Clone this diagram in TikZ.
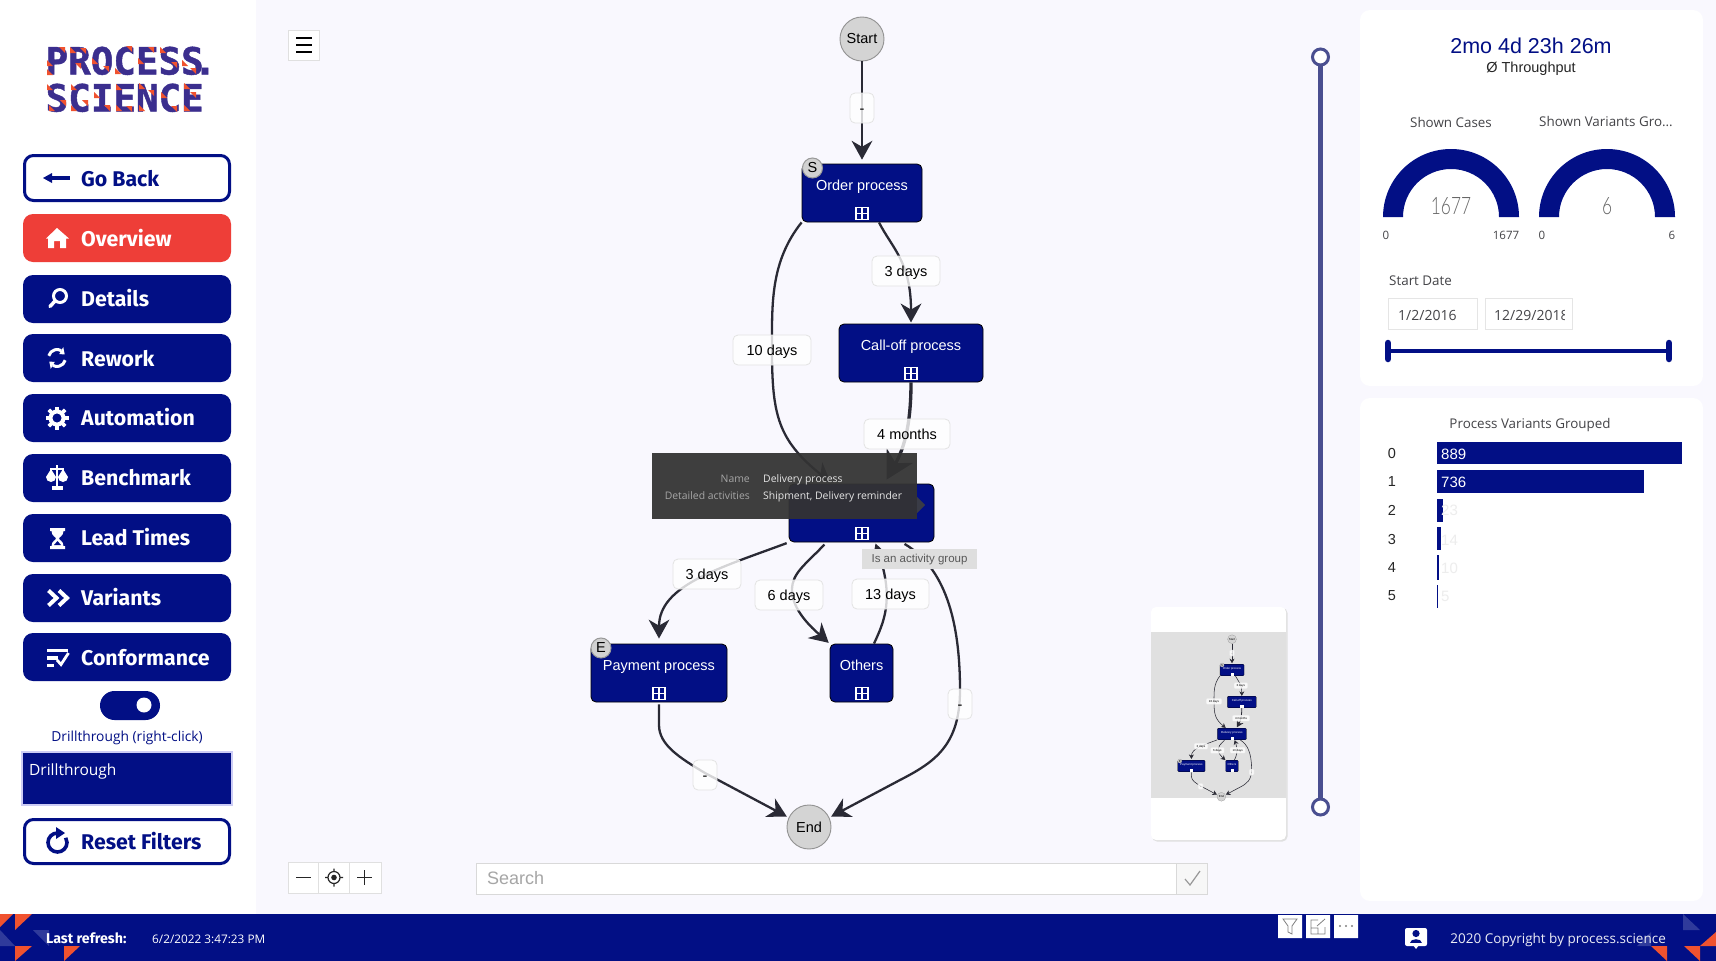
\documentclass[tikz,border=0pt]{standalone}
\usepackage{fontspec}
\setmainfont{Liberation Sans}
\newfontfamily\uifont{Open Sans}
\newfontfamily\btnfont{Fira Sans}
\newfontfamily\logofont[BoldFeatures={FakeBold=1.2}]{DejaVu Sans Mono}
\newfontfamily\gaugefont{Lato Light}
\usetikzlibrary{arrows.meta,shapes.geometric}
\definecolor{navy}{HTML}{020F85}
\definecolor{bgpage}{HTML}{F9F8FE}
\definecolor{edgec}{HTML}{2A2A35}
\definecolor{redbtn}{HTML}{EE3E38}
\definecolor{logoblue}{HTML}{3B2E8E}
\definecolor{logored}{HTML}{F0522F}
\definecolor{inkgray}{HTML}{444448}
\definecolor{slidec}{HTML}{4A4F90}
\def\gw{2.3pt}
\def\rc{5pt}
\tikzset{
 navbtn/.style={rounded corners=10pt,fill=navy},
 outbtn/.style={rounded corners=9pt,draw=navy,line width=3pt,fill=white},
 btntext/.style={font=\btnfont\bfseries\fontsize{21.3}{24}\selectfont,anchor=base west,inner sep=0pt},
 ui/.style={font=\uifont\fontsize{13.4}{16}\selectfont,text=inkgray,inner sep=0pt},
 proc/.style={draw=black,line width=.35*\gw,fill=navy,rounded corners=\rc,text=white,inner sep=0pt,font=\fontsize{14.5}{17}\selectfont,text height=10pt,text depth=16pt,align=center},
 term/.style={circle,draw=gray!85,line width=.4*\gw,fill=black!17,minimum size=44pt,inner sep=0pt,font=\fontsize{14.5}{17}\selectfont},
 badge/.style={circle,draw=gray!80,line width=.45*\gw,fill=black!18,minimum size=20pt,inner sep=0pt,font=\fontsize{14.5}{17}\selectfont},
 edgelbl/.style={draw=black!11,line width=.35*\gw,fill=white,fill opacity=.8,text opacity=1,rounded corners=\rc,inner sep=0pt,font=\fontsize{14.5}{17}\selectfont,minimum height=30pt,text height=11.5pt,text depth=.5pt},
 flow/.style={draw=edgec,line width=\gw,-{Stealth[length=0pt 8.2,width=0pt 9,inset=0pt 2.6]}},
 ic/.style={white,line width=3pt},
 foottri/.style={fill=logored},
 fadetri/.style={fill=white,fill opacity=.18},
 logotext/.style={font=\logofont\bfseries\fontsize{37.5}{40}\selectfont,text=logoblue,anchor=base west,inner sep=0pt},
 gaugetext/.style={font=\gaugefont\fontsize{24}{28}\selectfont,text=black!60,inner sep=0pt},
}
% grid icon on a process node
\newcommand{\gridmark}[2]{%
 \draw[white,line width=\gw*.7] (#1-6,#2-6) rectangle (#1+6,#2+6) (#1-6,#2) -- (#1+6,#2) (#1,#2-6) -- (#1,#2+6);}
% the whole flow graph; #1 = text of the delivery node
\newcommand{\flowgraph}[1]{%
 \node[term] (start) at (862,39) {Start};
 \node[proc,minimum width=120pt,minimum height=58pt] (order) at (862,193) {Order process};
 \node[proc,minimum width=144pt,minimum height=58pt] (calloff) at (911,353) {Call-off process};
 \node[proc,minimum width=145pt,minimum height=58pt] (deliv) at (861.5,513) {#1};
 \node[proc,minimum width=136pt,minimum height=58pt] (pay) at (659,673) {Payment process};
 \node[proc,minimum width=63pt,minimum height=58pt] (others) at (861.5,673) {Others};
 \node[term] (nEnd) at (809,827) {End};
 \draw[flow,shorten >=1.7*\gw] (start.south) -- (order.north);
 \draw[flow,shorten >=.9*\gw] (order.south west) .. controls (770,262) and (772,305) .. (772,350) .. controls (772,415) and (778,440) .. (deliv.135);
 \draw[flow,shorten >=.5*\gw] (order.-60) .. controls (892,248) and (911,262) .. (calloff.north);
 \draw[flow,line width=1.45*\gw,shorten >=2*\gw] (calloff.south) .. controls (911,428) and (903,450) .. (deliv.52);
 \draw[flow,shorten >=2.2*\gw,shorten <=.9*\gw] (deliv.south west) .. controls (720,568) and (659,585) .. (pay.north);
 \draw[flow,shorten >=.5*\gw,shorten <=1.3*\gw] (deliv.-140) .. controls (805,565) and (792,573) .. (792,590) .. controls (792,610) and (812,628) .. (others.north west);
 \draw[flow,shorten >=.5*\gw] (others.67) .. controls (884,622) and (894,600) .. (deliv.-65);
 \draw[flow,shorten >=.9*\gw,shorten <=1.3*\gw] (deliv.-36) .. controls (940,565) and (960,610) .. (960,690) .. controls (960,745) and (935,762) .. (900,780) -- (nEnd.25);
 \draw[flow,shorten >=.9*\gw,shorten <=.9*\gw] (pay.south) -- (659,725) .. controls (659,745) and (680,758) .. (705,773) -- (nEnd.155);
 \gridmark{862}{213.5}\gridmark{911}{373.5}\gridmark{862}{533.5}\gridmark{659}{693.5}\gridmark{862}{693.5}
 \node[badge] (bs) at (812.5,168) {S};
 \node[badge] (be) at (601,648) {E};
 \node[edgelbl,minimum width=24pt] (l0) at (862,108) {-};
 \node[edgelbl,minimum width=68pt] (l1) at (906,271) {3 days};
 \node[edgelbl,minimum width=78pt] (l2) at (772,350) {10 days};
 \node[edgelbl,minimum width=86pt] (l3) at (907,434) {4 months};
 \node[edgelbl,minimum width=68pt] (l4) at (707,574) {3 days};
 \node[edgelbl,minimum width=68pt] (l5) at (789,595) {6 days};
 \node[edgelbl,minimum width=77pt] (l6) at (890.5,594) {13 days};
 \node[edgelbl,minimum width=24pt] (l7) at (960,704) {-};
 \node[edgelbl,minimum width=24pt] (l8) at (705,775) {-};
}
\begin{document}
\begin{tikzpicture}[x=1pt,y=-1pt]
\useasboundingbox (0,0) rectangle (1716,961);
\fill[bgpage] (0,0) rectangle (1716,961);
% sidebar
\fill[white] (0,0) rectangle (256,914);
% logo
\node[logotext] (logoa) at (45.5,74.5) {PROCESS\kern-10pt.};
\node[logotext] (logob) at (45.5,111.5) {SCIENCE};
\foreach \x/\y in {47/60,47/69,70/47,92/58,115/68,138/58,160/47,182/60,47/84,49/105,71/84,71/105,94/92,116/84,116/105,139/83,139/105,161/92,184/83,184/105}{
 \fill[logored] (\x,\y) -- (\x+6,\y+6) -- (\x,\y+6) -- cycle;}
\foreach \x/\y in {59/47,80/48,75/63,103/66,126/46,148/47,171/62,190/68,60/100,82/100,104/105,126/106,148/90,171/106,190/92}{
 \fill[logored] (\x,\y) -- (\x+6,\y) -- (\x+6,\y+6) -- cycle;}
% buttons
\draw[outbtn] (24.5,155.5) rectangle (229.5,200.5);
\fill[navbtn,fill=redbtn] (23,214) rectangle (231,262);
\foreach \y in {275,334,394,454,514,574,633}{\fill[navbtn] (23,\y) rectangle (231,\y+48);}
\node[btntext,text=navy] (t1) at (81,186) {Go Back};
\node[btntext,text=white] (t2) at (81,246) {Overview};
\node[btntext,text=white] (t3) at (81,306) {Details};
\node[btntext,text=white] (t4) at (81,366) {Rework};
\node[btntext,text=white] (t5) at (81,425) {Automation};
\node[btntext,text=white] (t6) at (81,485) {Benchmark};
\node[btntext,text=white] (t7) at (81,545) {Lead Times};
\node[btntext,text=white] (t8) at (81,605) {Variants};
\node[btntext,text=white] (t9) at (81,665) {Conformance};
% icons
\draw[navy,line width=3.5pt] (50,178) -- (70,178);
\fill[navy] (43,178) -- (52,173) -- (52,183) -- cycle;
\fill[white] (57,228) -- (69,238.5) -- (66,238.5) -- (66,248) -- (60,248) -- (60,241) -- (54,241) -- (54,248) -- (48,248) -- (48,238.5) -- (46,238.5) -- cycle;
\draw[ic] (60,296) circle (6.5);
\draw[ic,line width=3.5pt,line cap=round] (55,301) -- (50,306.5);
% rework
\draw[ic] (57,358) ++(195:8.5) arc (195:300:8.5);
\draw[ic] (57,358) ++(15:8.5) arc (15:120:8.5);
\fill[white] ([shift={(335:8.5)}]57,358) -- ([shift={(300:4.5)}]57,358) -- ([shift={(300:12.5)}]57,358) -- cycle;
\fill[white] ([shift={(155:8.5)}]57,358) -- ([shift={(120:4.5)}]57,358) -- ([shift={(120:12.5)}]57,358) -- cycle;
% gear
\foreach \a in {0,45,...,315}{\draw[white,line width=3.6pt] (57,418) ++(\a:6) -- ++(\a:5.5);}
\draw[ic,line width=4pt] (57,418) circle (6.5);
% scales
\draw[white,line width=2.5pt] (57,465) -- (57,488);
\draw[white,line width=2pt] (50,469) -- (64,469);
\fill[white] (52,486) rectangle (63,489.5);
\fill[white] (51,469) -- (46,477) arc (180:0:5) -- cycle;
\fill[white] (63,469) -- (58,477) arc (180:0:5) -- cycle;
% hourglass
\fill[white] (50,528) rectangle (65,531) (50,546) rectangle (65,549);
\fill[white] (51.5,531) -- (63.5,531) .. controls (63.5,536) and (59,537) .. (59,538.5) .. controls (59,540) and (63.5,541) .. (63.5,546) -- (51.5,546) .. controls (51.5,541) and (56,540) .. (56,538.5) .. controls (56,537) and (51.5,536) .. (51.5,531) -- cycle;
\fill[navy] (57.5,541) -- (61,545) -- (54,545) -- cycle;
% chevrons
\draw[white,line width=4pt] (48.5,590.5) -- (56.5,598) -- (48.5,605.5) (59,590.5) -- (67,598) -- (59,605.5);
% list check
\draw[white,line width=3.4pt] (47,650.5) -- (68,650.5) (47,658) -- (58,658) (47,665.5) -- (54,665.5);
\draw[white,line width=2.8pt] (57,660) -- (61,664.5) -- (68.5,653);
% toggle + drillthrough
\fill[navy,rounded corners=14.5pt] (100,691) rectangle (160,720);
\fill[white] (144,705) circle (7.5);
\node[ui,text=navy,font=\uifont\fontsize{13.8}{16}\selectfont] (drl) at (127,738) {Drillthrough (right-click)};
\draw[draw=black!20!blue!20,fill=navy,line width=1.5pt] (22,752) rectangle (232,805);
\node[ui,text=white,anchor=base west,font=\uifont\fontsize{15.5}{19}\selectfont] (drb) at (29,775) {Drillthrough};
\draw[outbtn] (24.5,819.5) rectangle (229.5,863.5);
\node[btntext,text=navy] (t10) at (81,849) {Reset Filters};
\draw[navy,line width=3.6pt] (57.5,833) arc (270:-30:9.5);
\fill[navy] (65,833) -- (56,827) -- (56,839) -- cycle;
% footer
\fill[navy] (0,914) rectangle (1716,961);
\fill[foottri] (0,914) -- (13,914) -- (0,927) -- cycle;
\fill[foottri] (15,914) -- (32,914) -- (15,930) -- cycle;
\fill[foottri] (15,946) -- (32,946) -- (15,961) -- cycle;
\fill[foottri] (64,946) -- (80,946) -- (64,961) -- cycle;
\fill[fadetri] (0,930) -- (15,946) -- (0,946) -- cycle;
\fill[fadetri] (33,930) -- (49,930) -- (49,946) -- cycle;
\fill[foottri] (1651,946) -- (1667,946) -- (1667,961) -- cycle;
\fill[foottri] (1684,946) -- (1700,946) -- (1700,961) -- cycle;
\fill[foottri] (1700,946) -- (1716,946) -- (1716,932) -- cycle;
\fill[fadetri] (1683,914) -- (1700,930) -- (1683,930) -- cycle;
\fill[fadetri] (1637,946) -- (1651,946) -- (1651,932) -- cycle;
\node[font=\btnfont\bfseries\fontsize{14.2}{16}\selectfont,text=white,anchor=base west,inner sep=0pt] (lr) at (46,943) {Last refresh:};
\node[font=\uifont\fontsize{11.8}{14}\selectfont,text=white,anchor=base west,inner sep=0pt] (ld) at (152,943) {6/2/2022 3:47:23 PM};
\fill[white] (1278,915) rectangle (1302,938) (1306,915) rectangle (1330,938) (1334,915) rectangle (1358,938);
\draw[gray,line width=.8pt] (1283,919) -- (1297,919) -- (1292,926) -- (1292,934) -- (1288,932) -- (1288,926) -- cycle;
\draw[gray,line width=.8pt] (1318,920) -- (1311,920) -- (1311,934) -- (1325,934) -- (1325,927) (1311,928) -- (1318,928) -- (1318,934) (1317,926) -- (1325,919);
\fill[gray] (1340,926) circle (1.2) (1346,926) circle (1.2) (1352,926) circle (1.2);
\fill[white,rounded corners=2pt] (1405,928) rectangle (1427,946);
\fill[white] (1413,945) -- (1419,945) -- (1416,949) -- cycle;
\fill[navy] (1416,933.5) circle (3.6);
\fill[navy] (1410,943) .. controls (1410,938) and (1422,938) .. (1422,943) -- cycle;
\node[font=\uifont\fontsize{13.5}{17}\selectfont,text=white!92!navy,anchor=base east,inner sep=0pt] (cp) at (1666,943) {2020 Copyright by process.science};
% right cards
\fill[white,rounded corners=10pt] (1360,10) rectangle (1703,386);
\fill[white,rounded corners=10pt] (1360,398) rectangle (1703,901);
\node[font=\fontsize{21.5}{24}\selectfont,text=navy,inner sep=0pt] (thr) at (1531,46) {2mo 4d 23h 26m};
\node[font=\fontsize{14.5}{17}\selectfont,text=black!85,inner sep=0pt] (thl) at (1531,68.5) {Ø Throughput};
\node[ui] (sc) at (1451,122) {Shown Cases};
\node[ui] (sv) at (1606,122) {Shown Variants Gro...};
\fill[navy] (1383,217) arc (180:360:68) -- (1499,217) arc (360:180:48) -- cycle;
\fill[navy] (1539,217) arc (180:360:68) -- (1655,217) arc (360:180:48) -- cycle;
\node[gaugetext] (g1) at (1451,206) {\scalebox{.72}[1]{1677}};
\node[gaugetext] (g2) at (1607,206) {\scalebox{.72}[1]{6}};
\node[ui,font=\uifont\fontsize{11.5}{14}\selectfont] (g1a) at (1386,235) {0};
\node[ui,font=\uifont\fontsize{11.5}{14}\selectfont] (g1b) at (1506,235) {1677};
\node[ui,font=\uifont\fontsize{11.5}{14}\selectfont] (g2a) at (1542,235) {0};
\node[ui,font=\uifont\fontsize{11.5}{14}\selectfont] (g2b) at (1672,235) {6};
\node[ui,anchor=west] (sd) at (1389,280.5) {Start Date};
\draw[black!10,fill=white,line width=.9pt] (1388,298) rectangle (1477,329);
\draw[black!10,fill=white,line width=.9pt] (1485,298) rectangle (1572,329);
\node[ui,anchor=west,font=\uifont\fontsize{14}{16}\selectfont] (d1) at (1398,315) {1/2/2016};
\begin{scope}
\clip (1486,299) rectangle (1564,328);
\node[ui,anchor=west,font=\uifont\fontsize{14}{16}\selectfont] (d2) at (1494,315) {12/29/2018};
\end{scope}
\draw[navy,line width=4pt] (1388,351) -- (1669,351);
\draw[navy,line width=6.5pt,line cap=round] (1388,343) -- (1388,359);
\draw[navy,line width=6.5pt,line cap=round] (1669,343) -- (1669,359);
\node[ui] (pv) at (1530,425) {Process Variants Grouped};
\fill[navy] (1437,442) rectangle (1682,464);
\fill[navy] (1437,470) rectangle (1644,493);
\fill[navy] (1437,499) rectangle (1443,522);
\fill[navy] (1437,527) rectangle (1441,550);
\fill[navy] (1437,555) rectangle (1439,580);
\fill[navy] (1437,585) rectangle (1438,608);
\foreach \n/\v/\y in {a/0/454,b/1/482,c/2/510,d/3/540,e/4/568,f/5/596}{
 \node[font=\fontsize{14.5}{17}\selectfont,text=black!85,inner sep=0pt] (r\n) at (1392,\y) {\v};}
\node[font=\fontsize{15}{18}\selectfont,text=white,anchor=west,inner sep=0pt] (va) at (1441,454) {889};
\node[font=\fontsize{15}{18}\selectfont,text=white,anchor=west,inner sep=0pt] (vb) at (1441,482) {736};
\node[font=\fontsize{15}{18}\selectfont,text=black!7,anchor=west,inner sep=0pt] (vc) at (1441,510) {23};
\node[font=\fontsize{15}{18}\selectfont,text=black!7,anchor=west,inner sep=0pt] (vd) at (1441,540) {14};
\node[font=\fontsize{15}{18}\selectfont,text=black!7,anchor=west,inner sep=0pt] (ve) at (1441,568) {10};
\node[font=\fontsize{15}{18}\selectfont,text=black!7,anchor=west,inner sep=0pt] (vf) at (1441,596) {5};
% canvas controls
\draw[black!12,fill=white,line width=1pt] (288,30) rectangle (319,60);
\draw[black,line width=1.4pt] (296,38) -- (312,38) (296,45) -- (312,45) (296,52) -- (312,52);
\draw[black!12,fill=white,line width=1pt] (288,862) rectangle (381,893) (318.5,862) -- (318.5,893) (349.5,862) -- (349.5,893);
\draw[black!85,line width=1.2pt] (296,877.5) -- (311,877.5) (357,877.5) -- (372,877.5) (364.5,870) -- (364.5,885);
\draw[black!85,line width=1.2pt] (334,877.5) circle (6) (325,877.5) -- (328,877.5) (340,877.5) -- (343,877.5) (334,868.5) -- (334,871.5) (334,883.5) -- (334,886.5);
\fill[black!85] (334,877.5) circle (2.8);
\draw[black!15,fill=white,line width=1pt] (476,863) rectangle (1207,894);
\draw[black!15,fill=black!3,line width=1pt] (1176,863) rectangle (1207,894);
\draw[black!40,line width=1.2pt] (1185,879) -- (1190,885) -- (1200,871);
\node[font=\fontsize{18}{21}\selectfont,text=black!35,anchor=base west,inner sep=0pt] (srch) at (487,884) {Search};
% vertical slider
\draw[slidec,line width=5pt] (1320.5,57) -- (1320.5,807);
\draw[slidec,fill=white,line width=3pt] (1320.5,57) circle (8);
\draw[slidec,fill=white,line width=3pt] (1320.5,807) circle (8);
% thumbnail
\fill[black!12,rounded corners=5pt] (1152,608) rectangle (1287.5,841.5);
\fill[white,rounded corners=5pt] (1151,607) rectangle (1286,840);
\fill[black!12] (1151,632) rectangle (1286,798);
\begin{scope}[shift={(1059.6,631.4)},scale=.2,transform shape,name prefix=m-]
\def\gw{.55pt}
\def\rc{1pt}
\flowgraph{Delivery process}
\end{scope}
% main graph
\flowgraph{}
% tooltip
\fill[black!78!gray!90,fill opacity=.94] (652,453) rectangle (917,519);
\fill[black!75,fill opacity=.9] (917,497) -- (925,505) -- (917,513) -- cycle;
\node[font=\uifont\fontsize{10.4}{14}\selectfont,text=black!35,anchor=base east,inner sep=0pt] (tt1) at (750,482) {Name};
\node[font=\uifont\fontsize{10.4}{14}\selectfont,text=white!90!black,anchor=base west,inner sep=0pt] (tt2) at (763,482) {Delivery process};
\node[font=\uifont\fontsize{10.4}{14}\selectfont,text=black!35,anchor=base east,inner sep=0pt] (tt3) at (750,499) {Detailed activities};
\node[font=\uifont\fontsize{10.4}{14}\selectfont,text=white!90!black,anchor=base west,inner sep=0pt] (tt4) at (763,499) {Shipment, Delivery reminder};
\fill[black!13] (862,548.5) rectangle (977,568.5);
\node[font=\fontsize{11.5}{14}\selectfont,text=black!65,inner sep=0pt] (tt5) at (919.5,559.5) {Is an activity group};
\end{tikzpicture}
\end{document}
